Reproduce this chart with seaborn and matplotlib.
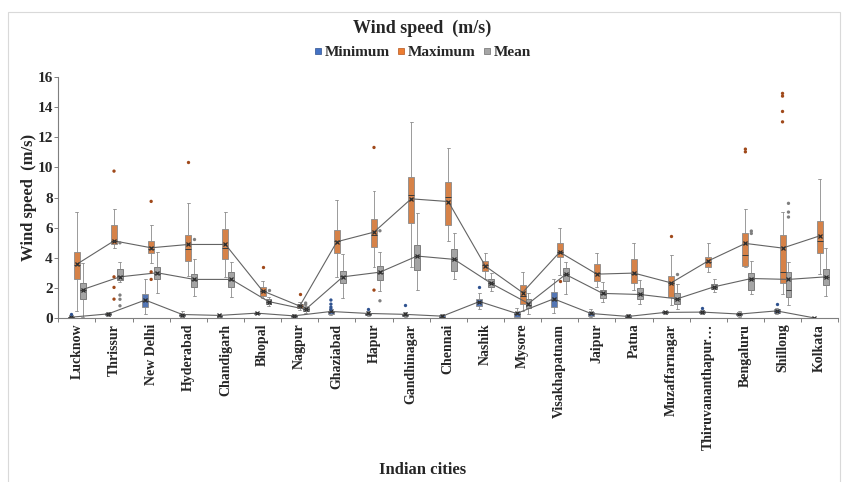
import matplotlib
matplotlib.use("Agg")
import matplotlib.pyplot as plt
from matplotlib.lines import Line2D
from matplotlib.patches import Rectangle
from matplotlib.ticker import FixedLocator
import pandas as pd
import seaborn as sns

cities = ["Lucknow", "Thrissur", "New Delhi", "Hyderabad", "Chandigarh", "Bhopal",
          "Nagpur", "Ghaziabad", "Hapur", "Gandhinagar", "Chennai", "Nashik", "Mysore",
          "Visakhapatnam", "Jaipur", "Patna", "Muzaffarnagar", "Thiruvananthapur\u2026",
          "Bengaluru", "Shillong", "Kolkata"]
series = ["Minimum", "Maximum", "Mean"]

# box summaries per city: (whisker low, Q1, median, Q3, whisker high)
min_box = [(0.0, 0.02, 0.05, 0.1, 0.15), (0.15, 0.2, 0.25, 0.33, 0.4),
           (0.3, 0.75, 1.15, 1.57, 2.57), (0.05, 0.12, 0.2, 0.3, 0.5),
           (0.05, 0.1, 0.15, 0.2, 0.3), (0.25, 0.3, 0.32, 0.35, 0.4),
           (0.02, 0.08, 0.12, 0.18, 0.25), (0.2, 0.3, 0.38, 0.48, 0.55),
           (0.15, 0.22, 0.28, 0.35, 0.45), (0.05, 0.14, 0.22, 0.3, 0.4),
           (0.0, 0.05, 0.1, 0.18, 0.3), (0.6, 0.82, 1.05, 1.26, 1.64),
           (0.0, 0.1, 0.25, 0.42, 0.65), (0.35, 0.75, 1.2, 1.75, 2.63),
           (0.05, 0.17, 0.28, 0.4, 0.6), (0.0, 0.05, 0.1, 0.18, 0.3),
           (0.25, 0.32, 0.38, 0.44, 0.5), (0.25, 0.32, 0.38, 0.45, 0.55),
           (0.1, 0.18, 0.25, 0.33, 0.45), (0.25, 0.35, 0.45, 0.58, 0.7),
           (0.0, 0.0, 0.01, 0.03, 0.05)]
max_box = [(0.5, 2.57, 3.5, 4.4, 7.06), (4.63, 4.9, 5.1, 6.15, 7.26),
           (3.63, 4.34, 4.6, 5.13, 6.18), (2.81, 3.8, 4.6, 5.51, 7.66),
           (2.74, 3.9, 4.67, 5.93, 7.04), (1.35, 1.5, 1.8, 2.08, 2.48),
           (0.55, 0.64, 0.78, 0.97, 1.1), (2.74, 4.34, 5.1, 5.82, 7.84),
           (3.41, 4.69, 5.5, 6.55, 8.45), (3.41, 6.29, 8.17, 9.38, 13.03),
           (5.13, 6.15, 8.06, 9.03, 11.27), (2.63, 3.12, 3.5, 3.8, 4.3),
           (0.5, 0.97, 1.5, 2.17, 3.07), (2.86, 4.03, 4.4, 4.96, 5.96),
           (2.04, 2.44, 3.0, 3.56, 4.34), (1.86, 2.34, 2.9, 3.94, 4.96),
           (0.86, 1.42, 2.3, 2.79, 4.16), (3.03, 3.41, 3.75, 4.03, 4.96),
           (3.4, 3.45, 4.18, 5.62, 7.26), (1.59, 2.34, 3.07, 5.49, 7.06),
           (2.92, 4.34, 5.13, 6.44, 9.25)]
mean_box = [(0.1, 1.28, 1.9, 2.3, 3.67), (2.37, 2.52, 2.8, 3.25, 3.72),
            (1.68, 2.57, 2.9, 3.37, 4.4), (1.5, 2.04, 2.5, 2.9, 3.9),
            (1.42, 2.04, 2.5, 3.07, 3.7), (0.8, 0.97, 1.1, 1.24, 1.42),
            (0.35, 0.44, 0.58, 0.71, 0.8), (1.35, 2.34, 2.8, 3.14, 4.25),
            (1.81, 2.52, 3.0, 3.45, 4.4), (1.86, 3.19, 4.1, 4.83, 6.95),
            (2.63, 3.1, 3.9, 4.56, 5.66), (1.81, 2.08, 2.3, 2.57, 2.97),
            (0.3, 0.64, 0.9, 1.24, 1.64), (1.59, 2.46, 2.9, 3.3, 3.7),
            (1.04, 1.33, 1.6, 1.9, 2.37), (0.97, 1.24, 1.6, 1.99, 2.52),
            (0.62, 0.91, 1.3, 1.64, 2.24), (1.71, 1.93, 2.08, 2.24, 2.63),
            (1.6, 1.86, 2.6, 2.97, 3.8), (0.84, 1.42, 1.86, 3.05, 3.74),
            (1.48, 2.19, 2.7, 3.25, 4.63)]

# mean markers (x) joined by lines
min_mean = [0.06, 0.28, 1.2, 0.24, 0.18, 0.33, 0.15, 0.44, 0.31, 0.25, 0.13,
            1.1, 0.31, 1.28, 0.31, 0.11, 0.38, 0.4, 0.27, 0.48, 0.02]
max_mean = [3.58, 5.13, 4.67, 4.89, 4.89, 1.81, 0.8, 5.07, 5.71, 7.92, 7.74,
            3.45, 1.7, 4.38, 2.92, 2.99, 2.34, 3.8, 4.96, 4.65, 5.46]
mean_mean = [1.9, 2.74, 3.01, 2.57, 2.57, 1.1, 0.58, 2.74, 3.05, 4.12, 3.9,
             2.3, 0.97, 2.9, 1.64, 1.57, 1.28, 2.08, 2.63, 2.57, 2.74]

# outliers per city
min_out = [[0.3], [], [], [], [], [], [], [0.6, 0.73, 0.93, 1.2], [0.6], [0.86], [],
           [2.08], [], [], [], [], [], [0.65], [], [0.97], []]
max_out = [[], [9.76, 2.74, 2.04, 1.26], [7.75, 3.07, 2.57], [10.34], [], [3.37],
           [1.57], [], [11.33, 1.86], [], [], [], [], [2.48], [], [], [5.46], [],
           [11.22, 11.04], [14.92, 14.74, 13.72, 13.03], []]
mean_out = [[], [5.0, 1.53, 1.25, 0.82], [], [5.25], [], [1.85], [0.9, 1.0], [],
            [5.8, 1.15], [], [], [], [], [], [], [], [2.92], [], [5.78, 5.62],
            [7.62, 7.04, 6.71], []]

colors = {"Minimum": "#4472C4", "Maximum": "#ED7D31", "Mean": "#A5A5A5"}
edges = {"Minimum": "#2F528F", "Maximum": "#B5561F", "Mean": "#6F6F6F"}
out_colors = {"_pad1": "white", "Minimum": "#2F528F", "Maximum": "#A0491A",
              "Mean": "#7F7F7F", "_pad2": "white"}

box_rows, mean_rows, out_rows = [], [], []
for name, boxes, means, outs in zip(series, [min_box, max_box, mean_box],
                                    [min_mean, max_mean, mean_mean],
                                    [min_out, max_out, mean_out]):
    for city, stats, m, o in zip(cities, boxes, means, outs):
        for v in stats:
            box_rows.append((city, name, v))
        mean_rows.append((city, name, m))
        for v in o:
            out_rows.append((city, name, v))
box_df = pd.DataFrame(box_rows, columns=["city", "series", "speed"])
mean_df = pd.DataFrame(mean_rows, columns=["city", "series", "speed"])
out_df = pd.DataFrame(out_rows, columns=["city", "series", "speed"])

sns.set_style("ticks")
plt.rcParams["font.family"] = ["Liberation Serif", "DejaVu Serif"]
plt.rcParams["font.weight"] = "bold"

fig = plt.figure(figsize=(8.45, 4.82), dpi=100)
ax = fig.add_axes([0.069, 0.34, 0.923, 0.50])

sns.boxplot(data=box_df, x="city", y="speed", hue="series", order=cities,
            hue_order=series, palette=colors, width=0.48, whis=(0, 100),
            linewidth=0.6, linecolor="#8a8a8a", showfliers=False, legend=False,
            medianprops=dict(color="#3a3a3a", linewidth=0.7), ax=ax)
for patch in ax.patches:
    fc = patch.get_facecolor()
    for name, c in colors.items():
        if matplotlib.colors.same_color(fc, c):
            patch.set_edgecolor(edges[name])

sns.stripplot(data=out_df, x="city", y="speed", hue="series", order=cities,
              hue_order=["_pad1"] + series + ["_pad2"], palette=out_colors,
              dodge=True, jitter=False, size=2.4, linewidth=0, legend=False, ax=ax)

sns.pointplot(data=mean_df, x="city", y="speed", hue="series", order=cities,
              hue_order=series, palette={s: "#636363" for s in series},
              dodge=0.32, markers="x", markersize=3.2, linewidth=0.8,
              markeredgewidth=0.9, errorbar=None, legend=False, ax=ax)
for line in ax.lines[-3:]:
    line.set_markeredgecolor("#2b2b2b")

ax.set_xlim(-0.5, len(cities) - 0.5)
ax.set_ylim(0, 16)
ax.set_yticks(range(0, 17, 2))
ax.tick_params(axis="y", labelsize=11, length=3, width=0.7, color="#7f7f7f", pad=1)
ax.tick_params(axis="x", which="major", labelsize=10, length=0, pad=4, labelrotation=90)
ax.xaxis.set_minor_locator(FixedLocator([i + 0.5 for i in range(-1, len(cities))]))
ax.tick_params(axis="x", which="minor", length=3, width=0.7, color="#7f7f7f")
for lab in ax.get_xticklabels() + ax.get_yticklabels():
    lab.set_fontweight("bold")
sns.despine(ax=ax)
for side in ["left", "bottom"]:
    ax.spines[side].set_color("#7f7f7f")
    ax.spines[side].set_linewidth(0.8)

ax.set_xlabel("")
ax.set_ylabel("Wind speed  (m/s)", fontsize=12, fontweight="bold")
ax.yaxis.set_label_coords(-0.027, 0.5)
fig.text(0.5, 0.025, "Indian cities", ha="center", va="center",
         fontsize=12, fontweight="bold")
fig.text(0.5, 0.942, "Wind speed  (m/s)", ha="center", va="center",
         fontsize=13, fontweight="bold")

handles = [Line2D([], [], linestyle="none", marker="s", markersize=4,
                  markerfacecolor=colors[s], markeredgecolor=edges[s],
                  markeredgewidth=0.5, label=s) for s in series]
fig.legend(handles=handles, loc="center", bbox_to_anchor=(0.5, 0.892), ncol=3,
           frameon=False, handlelength=0.5, handletextpad=0.2, columnspacing=0.5,
           prop={"weight": "bold", "size": 11})

fig.patches.append(Rectangle((0.009, -0.02), 0.985, 0.995, transform=fig.transFigure,
                             fill=False, edgecolor="#d9d9d9", linewidth=0.8))

fig.savefig("out.png", dpi=100)
plt.close(fig)
